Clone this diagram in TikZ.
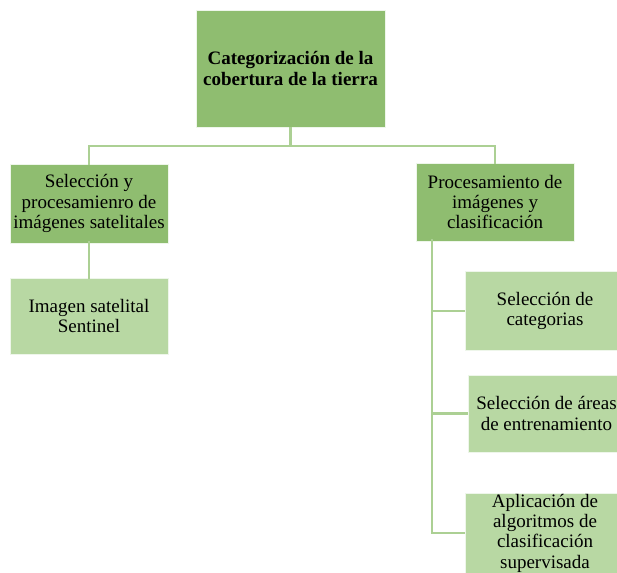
\documentclass[tikz,border=0pt]{standalone}
\usepackage{fontspec}
\setmainfont{Liberation Serif}
\definecolor{mainG}{RGB}{143,189,112}
\definecolor{lightG}{RGB}{184,216,163}
\definecolor{lineG}{RGB}{172,208,148}
\begin{document}
\begin{tikzpicture}[x=1pt,y=-1pt,
  box/.style={rectangle,draw=white!80!lineG,line width=0.8pt,align=center,inner sep=0pt,
    font=\fontsize{19}{20.3}\selectfont,text=black},
  mainbox/.style={box,fill=mainG},
  subbox/.style={box,fill=lightG},
  conn/.style={draw=lineG,line width=2.6pt}]
\useasboundingbox (0,0) rectangle (617,572);
\clip (0,0) rectangle (617,572);
\node[mainbox,minimum width=189pt,minimum height=117pt,font=\fontsize{19}{21.5}\selectfont\bfseries] (top) at (290.5,68.5)
  {Categorización de la\\cobertura de la tierra};
\node[mainbox,minimum width=158pt,minimum height=79pt] (A) at (89,203.5)
  {Selección y\\procesamienro de\\imágenes satelitales};
\node[subbox,minimum width=158pt,minimum height=76pt] (A1) at (89,316)
  {Imagen satelital\\Sentinel};
\node[mainbox,minimum width=158pt,minimum height=78pt] (B) at (495,202)
  {Procesamiento de\\imágenes y\\clasificación};
\node[subbox,minimum width=160pt,minimum height=79pt] (B1) at (545,311)
  {Selección de\\categorias};
\node[subbox,minimum width=157pt,minimum height=77pt] (B2) at (546.5,413.5)
  {Selección de áreas\\de entrenamiento};
\node[subbox,minimum width=160pt,minimum height=80pt] (B3) at (545,533)
  {Aplicación de\\algoritmos de\\clasificación\\supervisada};
\coordinate (j) at (290.5,146);
\draw[conn] (top.south) -- (j);
\draw[conn] (j) -| ([yshift=-1.5pt]A.north);
\draw[conn] (j) -| ([yshift=-1.5pt]B.north);
\draw[conn] ([yshift=2pt]A.south) -- ([yshift=-1.5pt]A1.north);
\draw[conn] ([xshift=-63pt,yshift=2pt]B.south) |- (B1.west);
\draw[conn] ([xshift=-63pt,yshift=2pt]B.south) |- (B2.west);
\draw[conn] ([xshift=-63pt,yshift=2pt]B.south) |- (B3.west);
\end{tikzpicture}
\end{document}
